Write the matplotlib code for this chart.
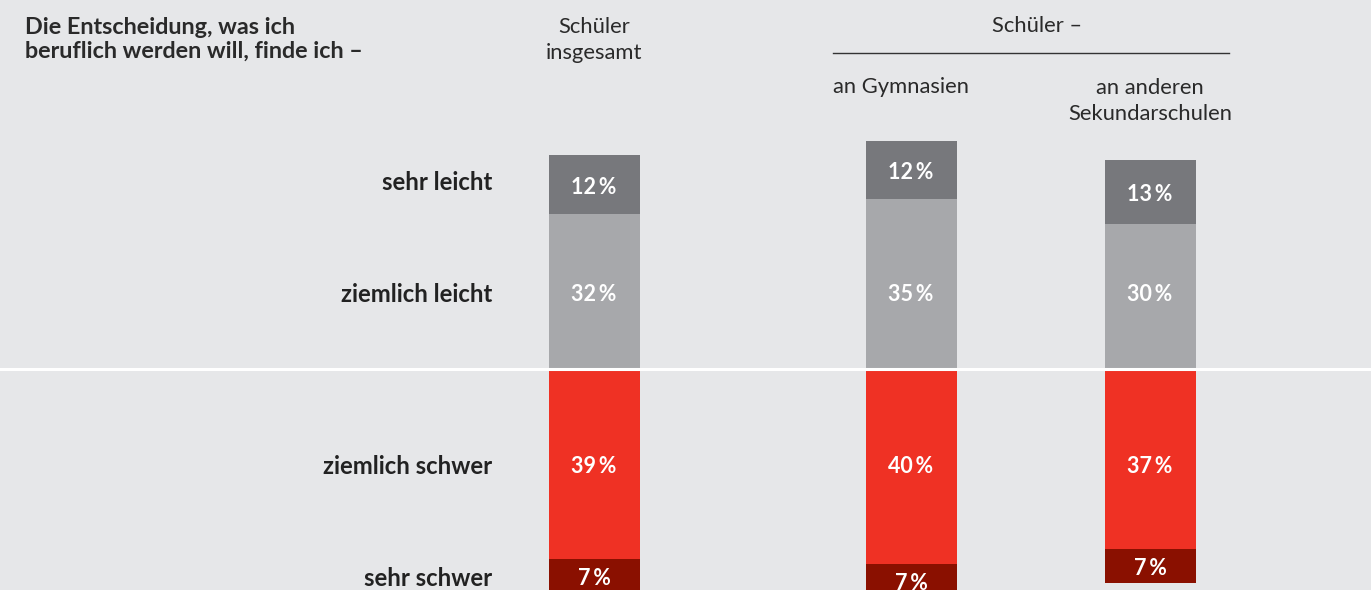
import matplotlib
matplotlib.use("Agg")
import matplotlib.pyplot as plt

plt.rcParams['font.family'] = ['Lato', 'DejaVu Sans']

# ---- data ----
groups = ["Schüler\ninsgesamt", "an Gymnasien", "an anderen\nSekundarschulen"]
categories = ["sehr leicht", "ziemlich leicht", "ziemlich schwer", "sehr schwer"]
sehr_leicht = [12, 12, 13]
ziemlich_leicht = [32, 35, 30]
ziemlich_schwer = [39, 40, 37]
sehr_schwer = [7, 7, 7]
title_lines = "Die Entscheidung, was ich\nberuflich werden will, finde ich –"
span_header = "Schüler –"

# ---- style / layout ----
W, H = 1371, 590
BG = "#e6e7e9"
C_SL = "#77787c"
C_ZL = "#a7a8ab"
C_ZS = "#ef3124"
C_SS = "#8a1000"
bar_x = [594, 911, 1150]
bar_w = 91
px_per_pct = 4.86
base_px = 369.3  # from top
dy = -0.55  # small text baseline correction (in %)

fig = plt.figure(figsize=(W / 100, H / 100), dpi=100, facecolor=BG)
ax = fig.add_axes([0, 0, 1, 1])
ax.set_facecolor(BG)
ax.set_xlim(0, W)
ax.set_ylim(-(H - base_px) / px_per_pct, base_px / px_per_pct)
ax.axis("off")

# bars
ax.bar(bar_x, ziemlich_leicht, width=bar_w, color=C_ZL, linewidth=0)
ax.bar(bar_x, sehr_leicht, bottom=ziemlich_leicht, width=bar_w, color=C_SL, linewidth=0)
neg_zs = [-v for v in ziemlich_schwer]
ax.bar(bar_x, neg_zs, width=bar_w, color=C_ZS, linewidth=0)
ax.bar(bar_x, [-v for v in sehr_schwer], bottom=neg_zs, width=bar_w, color=C_SS, linewidth=0)
ax.axhline(0, color="white", lw=2.2)

lab_kw = dict(color="white", fontsize=15.5, fontweight="bold", ha="center", va="center")
# row positions taken from first group
row_sl = ziemlich_leicht[0] + sehr_leicht[0] / 2 + 1
row_zl = ziemlich_leicht[0] / 2
row_zs = -ziemlich_schwer[0] / 2
row_ss = -ziemlich_schwer[0] - sehr_schwer[0] / 2

for i, x in enumerate(bar_x):
    ax.text(x, ziemlich_leicht[i] + sehr_leicht[i] / 2 + dy, f"{sehr_leicht[i]}\u2009%", **lab_kw)
    ax.text(x, row_zl + dy, f"{ziemlich_leicht[i]}\u2009%", **lab_kw)
    ax.text(x, row_zs + dy, f"{ziemlich_schwer[i]}\u2009%", **lab_kw)
    ax.text(x, -ziemlich_schwer[i] - sehr_schwer[i] / 2 + dy, f"{sehr_schwer[i]}\u2009%", **lab_kw)

# row labels
for y, name in zip([row_sl, row_zl, row_zs, row_ss], categories):
    ax.text(492, y + dy, name, ha="right", va="center", fontsize=17.2,
            fontweight="bold", color="#222222")

def fx(px):
    return px / W

def fy(py):
    return 1 - py / H

txt = "#2a2a2a"
fs_h = 15.8
fig.text(fx(25), fy(39.5), title_lines, ha="left", va="center", fontsize=16.8,
         fontweight="bold", color=txt, linespacing=1.2)
fig.text(fx(594), fy(40), groups[0], ha="center", va="center", fontsize=fs_h,
         color=txt, linespacing=1.4)
fig.text(fx(1037), fy(26), span_header, ha="center", va="center", fontsize=fs_h, color=txt)
fig.add_artist(plt.Line2D([fx(833), fx(1229)], [fy(53), fy(53)], color="#333333", lw=1.0))
fig.text(fx(901), fy(87), groups[1], ha="center", va="center", fontsize=fs_h, color=txt)
fig.text(fx(1150), fy(101), groups[2], ha="center", va="center", fontsize=fs_h,
         color=txt, linespacing=1.4)

fig.savefig("out.png", dpi=100, facecolor=BG)
